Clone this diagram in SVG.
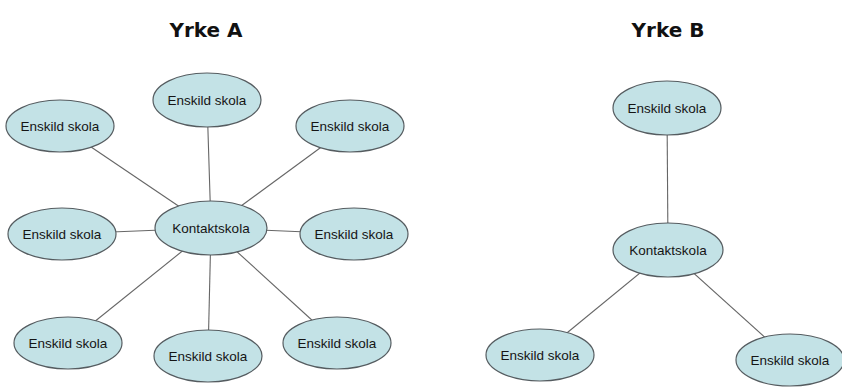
<svg xmlns="http://www.w3.org/2000/svg" width="842" height="392" viewBox="0 0 842 392">
<style>
.n ellipse{fill:#c3e2e6;stroke:#555c60;stroke-width:1.2}
.n text{font-family:"Liberation Sans",Arial,sans-serif;font-size:13.5px;fill:#151515;text-anchor:middle;dominant-baseline:central}
.t{font-family:"DejaVu Sans",Verdana,sans-serif;font-size:20px;font-weight:bold;fill:#111;text-anchor:middle}
.c line{stroke:#666;stroke-width:1.1}
</style>
<rect width="842" height="392" fill="#fff"/>
<text class="t" x="206" y="37">Yrke A</text>
<text class="t" x="668" y="37">Yrke B</text>
<g class="c">
<line x1="211" y1="228" x2="60" y2="126"/>
<line x1="211" y1="228" x2="207" y2="100"/>
<line x1="211" y1="228" x2="350" y2="126"/>
<line x1="211" y1="228" x2="62" y2="234"/>
<line x1="211" y1="228" x2="354" y2="234"/>
<line x1="211" y1="228" x2="68" y2="343"/>
<line x1="211" y1="228" x2="208" y2="356"/>
<line x1="211" y1="228" x2="337" y2="343"/>
<line x1="668" y1="250" x2="667" y2="108"/>
<line x1="668" y1="250" x2="540" y2="355"/>
<line x1="668" y1="250" x2="790" y2="360"/>
</g>
<g id="a1" class="n"><ellipse cx="60" cy="126" rx="54" ry="26"/><text x="60" y="126">Enskild skola</text></g>
<g id="a2" class="n"><ellipse cx="207" cy="100" rx="54" ry="27"/><text x="207" y="100">Enskild skola</text></g>
<g id="a3" class="n"><ellipse cx="350" cy="126" rx="54" ry="26"/><text x="350" y="126">Enskild skola</text></g>
<g id="a4" class="n"><ellipse cx="62" cy="234" rx="54" ry="26"/><text x="62" y="234">Enskild skola</text></g>
<g id="a5" class="n"><ellipse cx="211" cy="228" rx="56" ry="27"/><text x="211" y="228">Kontaktskola</text></g>
<g id="a6" class="n"><ellipse cx="354" cy="234" rx="54" ry="26"/><text x="354" y="234">Enskild skola</text></g>
<g id="a7" class="n"><ellipse cx="68" cy="343" rx="54" ry="26"/><text x="68" y="343">Enskild skola</text></g>
<g id="a8" class="n"><ellipse cx="208" cy="356" rx="54" ry="26"/><text x="208" y="356">Enskild skola</text></g>
<g id="a9" class="n"><ellipse cx="337" cy="343" rx="54" ry="26"/><text x="337" y="343">Enskild skola</text></g>
<g id="b1" class="n"><ellipse cx="667" cy="108" rx="54" ry="27"/><text x="667" y="108">Enskild skola</text></g>
<g id="b2" class="n"><ellipse cx="668" cy="250" rx="55" ry="27"/><text x="668" y="250">Kontaktskola</text></g>
<g id="b3" class="n"><ellipse cx="540" cy="355" rx="54" ry="26"/><text x="540" y="355">Enskild skola</text></g>
<g id="b4" class="n"><ellipse cx="790" cy="360" rx="54" ry="26"/><text x="790" y="360">Enskild skola</text></g>
</svg>
